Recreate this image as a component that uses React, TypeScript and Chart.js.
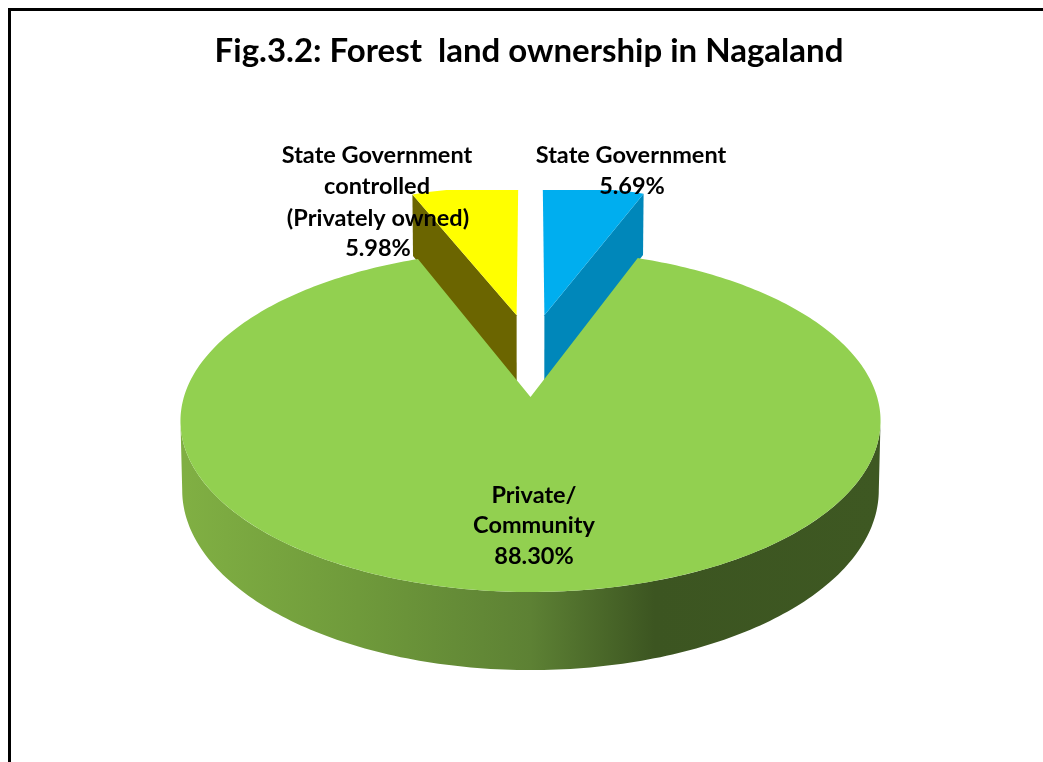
import { useEffect, useRef } from "react";
import { Chart, registerables } from "chart.js";

Chart.register(...registerables);

const categories = ["State Government", "Private/Community", "State Government controlled (Privately owned)"];
const shares = [5.69, 88.3, 5.98];
const topColors = ["#00AEEF", "#92D050", "#FFFF00"];
const cutColors = ["#0087BA", "#6F9E3D", "#6B6500"];
const titleText = "Fig.3.2: Forest  land ownership in Nagaland";
const fontFamily = "Lato, 'Open Sans', sans-serif";

// Slice callouts, one string per drawn line.
const blueLabel = ["State Government", "5.69%"];
const greenLabel = ["Private/", "Community", "88.30%"];
const yellowLabel = ["State Government", "controlled", "(Privately owned)", "5.98%"];

// Pulled-out distance of each slice on the pie's ground plane (unit radius).
const explodeU = [0.043, 0, -0.043];
const explodeV = [-0.524, 0, -0.524];

// Perspective camera for the tilted pie.
const CX = 530.5;
const CY = 397;
const RX = 346.6;
const RY = 167.7;
const TILT = 0.14;
const DROP = 68;
const BASE_SCALE = 0.995;
const PLOT_TOP = 190;
// Cut faces run a little under the large slice so no seam shows between them.
const TUCK = 4;

type Pt = { x: number; y: number };

// Projects a ground-plane point (u right, v toward the viewer) to canvas pixels.
function project(u: number, v: number, lower: boolean): Pt {
  const w = 1 - TILT * v;
  const s = lower ? BASE_SCALE : 1;
  return {
    x: CX + (s * RX * u) / w,
    y: CY + (s * RY * v + (lower ? DROP : 0)) / w,
  };
}

function rimPoint(angle: number, du: number, dv: number, lower: boolean): Pt {
  return project(Math.cos(angle) + du, Math.sin(angle) + dv, lower);
}

function tucked(p: Pt): Pt {
  return { x: p.x, y: p.y + TUCK };
}

function fillPoly(ctx: CanvasRenderingContext2D, pts: Pt[], fill: string | CanvasGradient) {
  ctx.beginPath();
  pts.forEach((p, i) => (i ? ctx.lineTo(p.x, p.y) : ctx.moveTo(p.x, p.y)));
  ctx.closePath();
  ctx.fillStyle = fill;
  ctx.fill();
}

function sweep(start: number, end: number, du: number, dv: number, lower: boolean): Pt[] {
  const steps = Math.max(8, Math.ceil(Math.abs(end - start) * 60));
  const out: Pt[] = [];
  for (let i = 0; i <= steps; i++) {
    out.push(rimPoint(start + ((end - start) * i) / steps, du, dv, lower));
  }
  return out;
}

// Replaces the flat arc drawing with an extruded, perspective one,
// using the angles the pie controller computed for each value.
const tiltedPie = {
  id: "tiltedPie",
  beforeDatasetsDraw(chart: Chart) {
    const ctx = chart.ctx;
    const arcs = chart.getDatasetMeta(0).data as any[];
    const order = [0, 2, 1];
    for (const i of order) {
      const { startAngle, endAngle } = arcs[i];
      const du = explodeU[i];
      const dv = explodeV[i];
      ctx.save();
      if (i === 1) {
        // Outer wall of the large slice, shaded from lit left to dark right.
        const grad = ctx.createLinearGradient(CX - 345, 0, CX + 345, 0);
        grad.addColorStop(0, "#80AF43");
        grad.addColorStop(0.25, "#6F9A3B");
        grad.addColorStop(0.5, "#5D8134");
        grad.addColorStop(0.68, "#3C5521");
        grad.addColorStop(1, "#3E5822");
        const wallStart = 0.14;
        const wallEnd = Math.PI - 0.14;
        fillPoly(
          ctx,
          [...sweep(wallStart, wallEnd, 0, 0, false), ...sweep(wallEnd, wallStart, 0, 0, true)],
          grad,
        );
      } else {
        // The pulled-out slices are cut off flat at the top of the plot area.
        ctx.beginPath();
        ctx.rect(0, PLOT_TOP, chart.width, chart.height - PLOT_TOP);
        ctx.clip();
        // Radial cut face on the inner side of a pulled-out slice.
        const edge = i === 0 ? endAngle : startAngle;
        fillPoly(
          ctx,
          [
            project(du, dv, false),
            rimPoint(edge, du, dv, false),
            tucked(rimPoint(edge, du, dv, true)),
            tucked(project(du, dv, true)),
          ],
          cutColors[i],
        );
      }
      fillPoly(ctx, [project(du, dv, false), ...sweep(startAngle, endAngle, du, dv, false)], topColors[i]);
      ctx.restore();
    }
    return false;
  },
};

function drawLines(ctx: CanvasRenderingContext2D, lines: string[], xs: number[], ys: number[]) {
  lines.forEach((line, i) => ctx.fillText(line, xs[i], ys[i]));
}

const calloutText = {
  id: "calloutText",
  afterDraw(chart: Chart) {
    const ctx = chart.ctx;
    ctx.save();
    ctx.fillStyle = "#000";
    ctx.font = `bold 23.5px ${fontFamily}`;
    ctx.textAlign = "center";
    ctx.textBaseline = "middle";
    drawLines(ctx, blueLabel, [631, 632], [155, 186]);
    drawLines(ctx, yellowLabel, [377, 377, 378, 378], [155, 186, 218, 248]);
    drawLines(ctx, greenLabel, [534, 534, 534], [495, 525, 556]);
    ctx.restore();
  },
};

export default function App() {
  const ref = useRef<HTMLCanvasElement>(null);
  useEffect(() => {
    if (!ref.current) return;
    const chart = new Chart(ref.current, {
      type: "pie",
      data: {
        labels: categories,
        datasets: [{ data: shares, backgroundColor: topColors, borderWidth: 0 }],
      },
      options: {
        responsive: false,
        animation: false,
        layout: { padding: { left: 15 } },
        plugins: {
          legend: { display: false },
          tooltip: { enabled: false },
          title: {
            display: true,
            text: titleText,
            color: "#000",
            font: { family: fontFamily, size: 33, weight: "bold" },
            padding: { top: 32, bottom: 10 },
          },
        },
      },
      plugins: [tiltedPie, calloutText],
    });
    return () => chart.destroy();
  }, []);
  return (
    <div style={{ position: "fixed", inset: 0, overflow: "hidden", background: "#fff" }}>
      <div
        style={{
          position: "absolute",
          left: 8,
          top: 8,
          width: 1100,
          height: 800,
          border: "3px solid #000",
          boxSizing: "border-box",
        }}
      />
      <canvas ref={ref} width={1043} height={762} style={{ position: "absolute", left: 0, top: 0 }} />
    </div>
  );
}
